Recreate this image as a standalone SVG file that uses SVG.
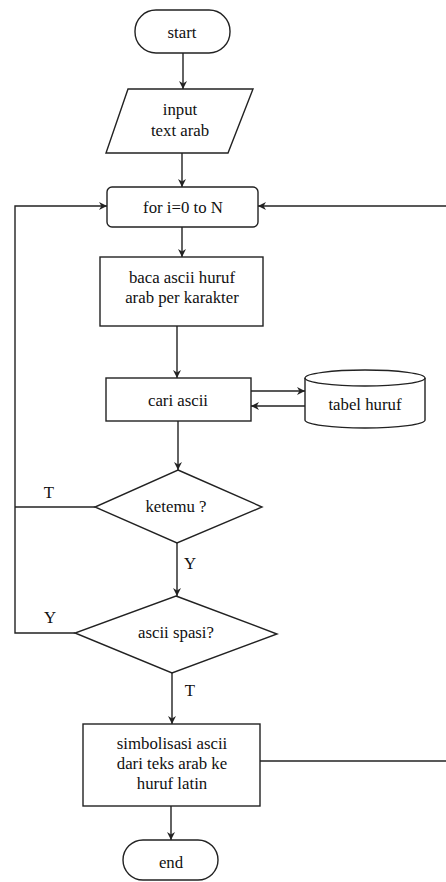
<svg xmlns="http://www.w3.org/2000/svg" width="446" height="882" viewBox="0 0 446 882">
<style>
.s{fill:#fff;stroke:#222;stroke-width:1.4}
.c{fill:none;stroke:#222;stroke-width:1.4}
text{font-family:"Liberation Serif","Times New Roman",serif;font-size:16.8px;fill:#111;text-anchor:middle;dominant-baseline:central}
</style>
<defs>
<marker id="a" viewBox="0 0 10 10" refX="10" refY="5" markerWidth="8" markerHeight="8" markerUnits="userSpaceOnUse" orient="auto">
<path d="M0,0 L10,5 L0,10 L3,5 z" fill="#222"/>
</marker>
</defs>
<g id="connectors">
<line class="c" x1="183" y1="53" x2="183" y2="89" marker-end="url(#a)"/>
<line class="c" x1="182" y1="153" x2="182" y2="187" marker-end="url(#a)"/>
<line class="c" x1="182" y1="227" x2="182" y2="257" marker-end="url(#a)"/>
<line class="c" x1="177" y1="326" x2="177" y2="378" marker-end="url(#a)"/>
<line class="c" x1="251" y1="391" x2="305" y2="391" marker-end="url(#a)"/>
<line class="c" x1="305" y1="406" x2="251" y2="406" marker-end="url(#a)"/>
<line class="c" x1="178" y1="421" x2="178" y2="470" marker-end="url(#a)"/>
<line class="c" x1="177" y1="543" x2="177" y2="596" marker-end="url(#a)"/>
<line class="c" x1="172" y1="673" x2="172" y2="724" marker-end="url(#a)"/>
<line class="c" x1="171" y1="806" x2="171" y2="840" marker-end="url(#a)"/>
<polyline class="c" points="95,507 15,507"/>
<polyline class="c" points="75,633 15,633 15,206 107,206" marker-end="url(#a)"/>
<line class="c" x1="260" y1="761" x2="446" y2="761"/>
<line class="c" x1="446" y1="206" x2="258" y2="206" marker-end="url(#a)"/>
<text x="49" y="492">T</text>
<text x="190" y="563">Y</text>
<text x="50" y="617">Y</text>
<text x="190" y="690">T</text>
</g>
<g id="start">
<rect class="s" x="135" y="10" width="95" height="43" rx="21"/>
<text x="182" y="32">start</text>
</g>
<g id="input">
<polygon class="s" points="128,89 253,89 228,153 106,153"/>
<text x="180" y="109">input</text>
<text x="180" y="130">text arab</text>
</g>
<g id="for">
<rect class="s" x="107" y="187" width="151" height="40" rx="5"/>
<text x="183" y="207">for i=0 to N</text>
</g>
<g id="baca">
<rect class="s" x="100" y="257" width="163" height="69"/>
<text x="182" y="277">baca ascii huruf</text>
<text x="182" y="297">arab per karakter</text>
</g>
<g id="cari">
<rect class="s" x="106" y="378" width="145" height="43"/>
<text x="178" y="400">cari ascii</text>
</g>
<g id="tabel">
<path class="s" d="M305,378 L305,420 A60,8 0 0 0 425,420 L425,378 A60,8 0 0 0 305,378 z"/>
<path class="c" d="M305,378 A60,8 0 0 0 425,378"/>
<text x="365" y="404">tabel huruf</text>
</g>
<g id="ketemu">
<polygon class="s" points="178,470 262,507 177,543 95,507"/>
<text x="176" y="506">ketemu ?</text>
</g>
<g id="spasi">
<polygon class="s" points="176,596 277,634 172,673 75,633"/>
<text x="176" y="632">ascii spasi?</text>
</g>
<g id="simbolisasi">
<rect class="s" x="83" y="724" width="177" height="82"/>
<text x="172" y="743">simbolisasi ascii</text>
<text x="172" y="763">dari teks arab ke</text>
<text x="172" y="783">huruf latin</text>
</g>
<g id="end">
<rect class="s" x="123" y="840" width="95" height="40" rx="20"/>
<text x="171" y="862">end</text>
</g>
</svg>
